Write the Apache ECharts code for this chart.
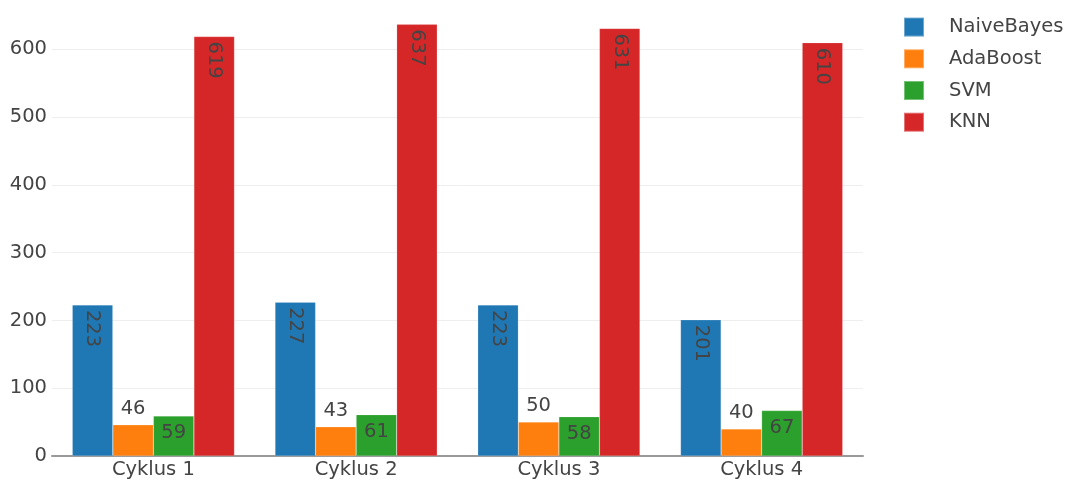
<!DOCTYPE html>
<html>
<head>
<meta charset="utf-8">
<script src="https://cdn.jsdelivr.net/npm/echarts@6/dist/echarts.min.js"></script>
<style>html,body{margin:0;padding:0;background:#fff;}#c{width:1066px;height:481px;}</style>
</head>
<body>
<div id="c"></div>
<script>
const categories = ['Cyklus 1', 'Cyklus 2', 'Cyklus 3', 'Cyklus 4'];
const seriesNames = ['NaiveBayes', 'AdaBoost', 'SVM', 'KNN'];
const naiveBayes = [223, 227, 223, 201];
const adaBoost = [46, 43, 50, 40];
const svm = [59, 61, 58, 67];
const knn = [619, 637, 631, 610];
const yTicks = [0, 100, 200, 300, 400, 500, 600];

const colors = ['#1f77b4', '#ff7f0e', '#2ca02c', '#d62728'];
const FONT = 'DejaVu Sans';
const FS = 19.5;
const textCol = '#444';

const rotatedInside = {show: true, position: 'insideTop', rotate: -90, align: 'left', verticalAlign: 'middle', distance: 5, color: textCol, fontFamily: FONT, fontSize: FS};
const outsideTop = {show: true, position: 'top', distance: 6, color: textCol, fontFamily: FONT, fontSize: FS};
const insideTop = {show: true, position: 'insideTop', distance: 7, color: textCol, fontFamily: FONT, fontSize: FS};

const values = [naiveBayes, adaBoost, svm, knn];
const labels = [rotatedInside, outsideTop, insideTop, rotatedInside];

const chart = echarts.init(document.getElementById('c'), null, {renderer: 'canvas'});
chart.setOption({
  animation: false,
  color: colors,
  grid: {left: 52, right: 203, top: 2, bottom: 25, containLabel: false},
  legend: {
    orient: 'vertical', left: 898, top: 11.6,
    icon: 'rect', itemWidth: 20, itemHeight: 19, itemGap: 10.7,
    data: seriesNames,
    textStyle: {color: textCol, fontFamily: FONT, fontSize: FS, lineHeight: 19, padding: [0, 0, 0, 20]}
  },
  xAxis: {
    type: 'category', data: categories,
    axisLine: {show: true, lineStyle: {color: '#999', width: 2}},
    axisTick: {show: false},
    axisLabel: {color: textCol, fontFamily: FONT, fontSize: FS, margin: 4}
  },
  yAxis: {
    type: 'value', min: 0, max: 670, interval: 100,
    axisLine: {show: false}, axisTick: {show: false},
    splitLine: {showMaxLine: false, lineStyle: {color: '#eee', width: 1}},
    axisLabel: {color: textCol, fontFamily: FONT, fontSize: FS, margin: 5, showMaxLabel: false,
      formatter: v => yTicks.includes(v) ? String(v) : ''}
  },
  series: seriesNames.map((n, i) => ({
    name: n, type: 'bar', data: values[i],
    barGap: '0%', barCategoryGap: '20%',
    itemStyle: {color: colors[i], borderColor: 'rgba(255,255,255,0.35)', borderWidth: 0.5},
    label: labels[i]
  }))
});
</script>
</body>
</html>
